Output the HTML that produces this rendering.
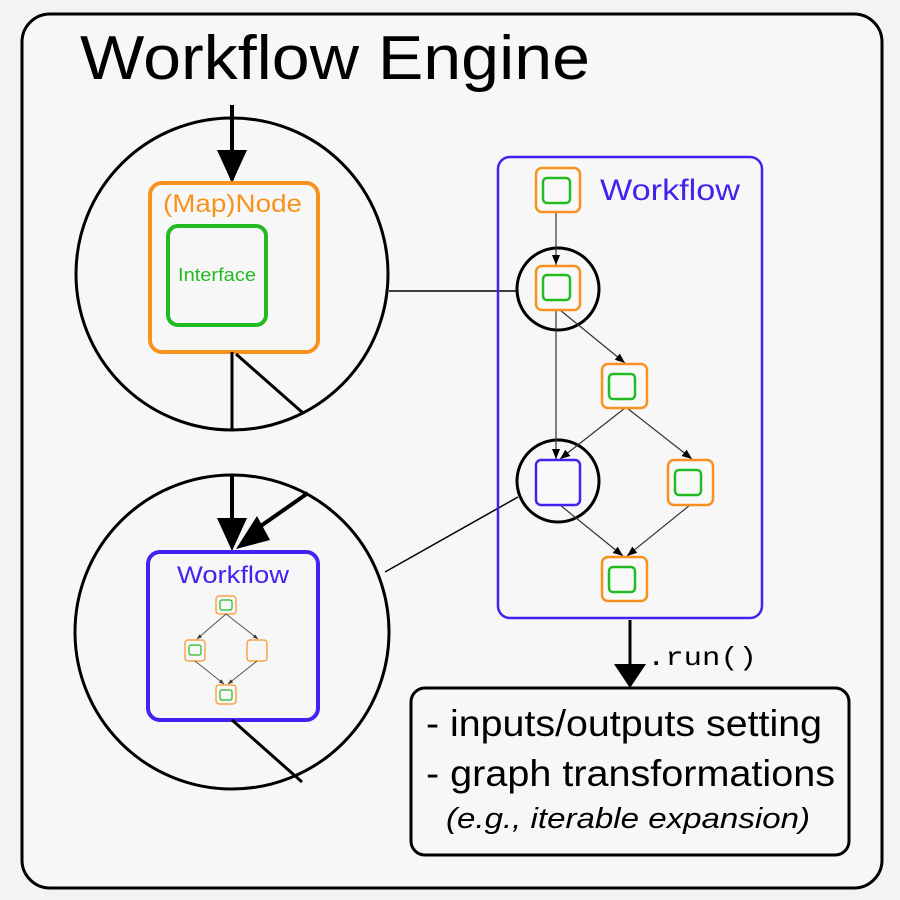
<!DOCTYPE html>
<html><head><meta charset="utf-8"><style>
html,body{margin:0;padding:0;width:900px;height:900px;background:#f3f3f3;overflow:hidden}
svg{display:block}
</style></head><body>
<svg width="900" height="900" viewBox="0 0 900 900" xmlns="http://www.w3.org/2000/svg">
<defs>
<marker id="sm" markerWidth="10" markerHeight="8" refX="10" refY="4" orient="auto" markerUnits="userSpaceOnUse" viewBox="0 0 10 8"><path d="M0,0 L10,4 L0,8 z" fill="#000"/></marker>
<marker id="tiny" markerWidth="5" markerHeight="4" refX="5" refY="2" orient="auto" markerUnits="userSpaceOnUse" viewBox="0 0 5 4"><path d="M0,0 L5,2 L0,4 z" fill="#333"/></marker>
</defs>
<rect x="22" y="14" width="860" height="874" rx="28" fill="#f7f7f7" stroke="#000" stroke-width="3"/>
<text x="80" y="79" font-family="Liberation Sans, sans-serif" font-size="62" fill="#000" textLength="510" lengthAdjust="spacingAndGlyphs">Workflow Engine</text>

<!-- top circle -->
<circle cx="232" cy="274" r="156" fill="none" stroke="#000" stroke-width="3"/>
<line x1="232" y1="105" x2="232" y2="180" stroke="#000" stroke-width="4"/>
<path d="M217,150 L247,150 L232,183 z" fill="#000"/>
<rect x="150" y="183" width="168" height="169" rx="12" fill="none" stroke="#f7921e" stroke-width="4"/>
<text x="163" y="212" font-family="Liberation Sans, sans-serif" font-size="25" fill="#f7921e" textLength="139" lengthAdjust="spacingAndGlyphs">(Map)Node</text>
<rect x="168" y="226" width="98" height="99" rx="10" fill="none" stroke="#22bb22" stroke-width="4"/>
<text x="178" y="281" font-family="Liberation Sans, sans-serif" font-size="18" fill="#22bb22" textLength="78" lengthAdjust="spacingAndGlyphs">Interface</text>
<line x1="232" y1="352" x2="232" y2="429" stroke="#000" stroke-width="3"/>
<line x1="236" y1="354" x2="303" y2="413" stroke="#000" stroke-width="3"/>
<line x1="389" y1="291" x2="518" y2="291" stroke="#000" stroke-width="1.5"/>

<!-- bottom circle -->
<circle cx="232" cy="632" r="157" fill="none" stroke="#000" stroke-width="3"/>
<line x1="232" y1="475" x2="232" y2="545" stroke="#000" stroke-width="4"/>
<path d="M217,518 L247,518 L232,551 z" fill="#000"/>
<line x1="308" y1="493" x2="255" y2="530" stroke="#000" stroke-width="4"/>
<path d="M257,516 L270,540 L236,549 z" fill="#000"/>
<rect x="148" y="552" width="170" height="168" rx="12" fill="none" stroke="#4422ee" stroke-width="4"/>
<text x="177" y="583" font-family="Liberation Sans, sans-serif" font-size="24" fill="#4422ee" textLength="112" lengthAdjust="spacingAndGlyphs">Workflow</text>
<g fill="none" stroke-width="1.2">
<rect x="216" y="596" width="20" height="18" rx="3" stroke="#f7921e"/><rect x="220" y="600" width="12" height="10" rx="2" stroke="#22bb22"/>
<rect x="185" y="640" width="20" height="21" rx="3" stroke="#f7921e"/><rect x="189" y="645" width="12" height="10" rx="2" stroke="#22bb22"/>
<rect x="247" y="640" width="20" height="21" rx="3" stroke="#f7921e"/>
<rect x="216" y="685" width="20" height="19" rx="3" stroke="#f7921e"/><rect x="220" y="690" width="12" height="10" rx="2" stroke="#22bb22"/>
</g>
<g stroke="#555" stroke-width="1">
<line x1="226" y1="614" x2="197" y2="639" marker-end="url(#tiny)"/>
<line x1="226" y1="614" x2="258" y2="639" marker-end="url(#tiny)"/>
<line x1="195" y1="661" x2="224" y2="684" marker-end="url(#tiny)"/>
<line x1="257" y1="661" x2="228" y2="684" marker-end="url(#tiny)"/>
</g>
<line x1="232" y1="720" x2="302" y2="782" stroke="#000" stroke-width="3"/>
<line x1="385" y1="572" x2="518" y2="497" stroke="#000" stroke-width="1.5"/>

<!-- workflow panel -->
<rect x="498" y="157" width="264" height="461" rx="12" fill="none" stroke="#4422ee" stroke-width="2.5"/>
<text x="600" y="200" font-family="Liberation Sans, sans-serif" font-size="30" fill="#4422ee" textLength="140" lengthAdjust="spacingAndGlyphs">Workflow</text>
<circle cx="558" cy="289" r="41" fill="none" stroke="#000" stroke-width="3"/>
<circle cx="558" cy="481" r="41" fill="none" stroke="#000" stroke-width="3"/>
<g stroke="#333" stroke-width="1.2">
<line x1="556" y1="212" x2="556" y2="265" marker-end="url(#sm)"/>
<line x1="556" y1="310" x2="556" y2="459" marker-end="url(#sm)"/>
<line x1="560" y1="310" x2="625" y2="363" marker-end="url(#sm)"/>
<line x1="625" y1="408" x2="560" y2="459" marker-end="url(#sm)"/>
<line x1="627" y1="408" x2="692" y2="459" marker-end="url(#sm)"/>
<line x1="560" y1="505" x2="623" y2="556" marker-end="url(#sm)"/>
<line x1="690" y1="505" x2="627" y2="556" marker-end="url(#sm)"/>
</g>
<g fill="#f9f9f9" stroke-width="2.5">
<rect x="536" y="168" width="44" height="44" rx="6" stroke="#f7921e"/><rect x="543" y="178" width="27" height="25" rx="4" stroke="#22bb22"/>
<rect x="536" y="266" width="44" height="44" rx="6" stroke="#f7921e"/><rect x="543" y="275" width="27" height="25" rx="4" stroke="#22bb22"/>
<rect x="602" y="364" width="45" height="44" rx="6" stroke="#f7921e"/><rect x="609" y="374" width="26" height="25" rx="4" stroke="#22bb22"/>
<rect x="536" y="460" width="44" height="45" rx="5" stroke="#4422ee"/>
<rect x="668" y="460" width="45" height="45" rx="6" stroke="#f7921e"/><rect x="675" y="470" width="26" height="25" rx="4" stroke="#22bb22"/>
<rect x="602" y="557" width="45" height="44" rx="6" stroke="#f7921e"/><rect x="609" y="567" width="26" height="25" rx="4" stroke="#22bb22"/>
</g>

<!-- run arrow -->
<line x1="630" y1="620" x2="630" y2="670" stroke="#000" stroke-width="3"/>
<path d="M614,664 L646,664 L630,688 z" fill="#000"/>
<text x="647" y="665" font-family="Liberation Mono, monospace" font-size="26" fill="#000" textLength="110" lengthAdjust="spacingAndGlyphs">.run()</text>

<rect x="411" y="688" width="438" height="167" rx="14" fill="#f7f7f7" stroke="#000" stroke-width="3"/>
<text x="426" y="736" font-family="Liberation Sans, sans-serif" font-size="37" fill="#000" textLength="396" lengthAdjust="spacingAndGlyphs">- inputs/outputs setting</text>
<text x="426" y="786" font-family="Liberation Sans, sans-serif" font-size="37" fill="#000" textLength="409" lengthAdjust="spacingAndGlyphs">- graph transformations</text>
<text x="446" y="828" font-family="Liberation Sans, sans-serif" font-style="italic" font-size="29" fill="#000" textLength="364" lengthAdjust="spacingAndGlyphs">(e.g., iterable expansion)</text>
</svg>
</body></html>
